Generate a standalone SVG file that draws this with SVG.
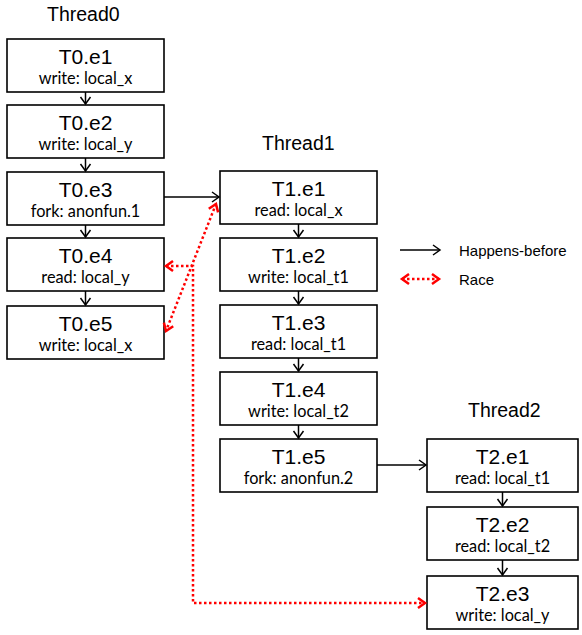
<svg xmlns="http://www.w3.org/2000/svg" width="582" height="635" viewBox="0 0 582 635">
  <style>
    .box { fill: #fff; stroke: #000; stroke-width: 1.6; }
    .ttl { font-family: "Liberation Sans", Arial, sans-serif; font-size: 19.5px; fill: #000; }
    .name { font-family: "Liberation Sans", Arial, sans-serif; font-size: 21px; fill: #000; text-anchor: middle; }
    .op { font-family: Lato, "Open Sans", sans-serif; font-size: 16.3px; fill: #000; text-anchor: middle; }
    .leg { font-family: "Liberation Sans", Arial, sans-serif; font-size: 15px; fill: #000; }
    .hb { fill: none; stroke: #000; stroke-width: 1.5; marker-end: url(#ah); }
    .race { fill: none; stroke: #ff0000; stroke-width: 2.5; stroke-dasharray: 2.5 2.5; marker-start: url(#rh); marker-end: url(#rh); }
  </style>
  <defs>
    <marker id="ah" markerUnits="userSpaceOnUse" markerWidth="14" markerHeight="14" refX="0" refY="0" viewBox="-8 -7 10 14" orient="auto">
      <path d="M-7,-5 L0,0 L-7,5" fill="none" stroke="#000" stroke-width="1.5"/>
    </marker>
    <marker id="rh" markerUnits="userSpaceOnUse" markerWidth="14" markerHeight="14" refX="0" refY="0" viewBox="-9 -7 11 14" orient="auto-start-reverse">
      <path d="M-7,-5 L0,0 L-7,5" fill="none" stroke="#ff0000" stroke-width="2.5"/>
    </marker>
  </defs>

  <!-- thread headings -->
  <text class="ttl" x="47" y="21">Thread0</text>
  <text class="ttl" x="262" y="150">Thread1</text>
  <text class="ttl" x="468" y="417">Thread2</text>

  <!-- Thread0 events -->
  <g id="T0.e1"><rect class="box" x="7" y="39" width="157" height="53"/><text class="name" x="85.5" y="64">T0.e1</text><text class="op" x="85.5" y="84">write: local_x</text></g>
  <g id="T0.e2"><rect class="box" x="7" y="105" width="157" height="53"/><text class="name" x="85.5" y="130">T0.e2</text><text class="op" x="85.5" y="150">write: local_y</text></g>
  <g id="T0.e3"><rect class="box" x="7" y="172" width="157" height="53"/><text class="name" x="85.5" y="197">T0.e3</text><text class="op" x="85.5" y="217">fork: anonfun.1</text></g>
  <g id="T0.e4"><rect class="box" x="7" y="238" width="157" height="53"/><text class="name" x="85.5" y="263">T0.e4</text><text class="op" x="85.5" y="283">read: local_y</text></g>
  <g id="T0.e5"><rect class="box" x="7" y="306" width="157" height="53"/><text class="name" x="85.5" y="331">T0.e5</text><text class="op" x="85.5" y="351">write: local_x</text></g>

  <!-- Thread1 events -->
  <g id="T1.e1"><rect class="box" x="220" y="171" width="157" height="53"/><text class="name" x="298.5" y="196">T1.e1</text><text class="op" x="298.5" y="216">read: local_x</text></g>
  <g id="T1.e2"><rect class="box" x="220" y="238" width="157" height="53"/><text class="name" x="298.5" y="263">T1.e2</text><text class="op" x="298.5" y="283">write: local_t1</text></g>
  <g id="T1.e3"><rect class="box" x="220" y="305" width="157" height="53"/><text class="name" x="298.5" y="330">T1.e3</text><text class="op" x="298.5" y="350">read: local_t1</text></g>
  <g id="T1.e4"><rect class="box" x="220" y="372" width="157" height="53"/><text class="name" x="298.5" y="397">T1.e4</text><text class="op" x="298.5" y="417">write: local_t2</text></g>
  <g id="T1.e5"><rect class="box" x="220" y="439" width="157" height="53"/><text class="name" x="298.5" y="464">T1.e5</text><text class="op" x="298.5" y="484">fork: anonfun.2</text></g>

  <!-- Thread2 events -->
  <g id="T2.e1"><rect class="box" x="427" y="439" width="151" height="53"/><text class="name" x="502.5" y="464">T2.e1</text><text class="op" x="502.5" y="484">read: local_t1</text></g>
  <g id="T2.e2"><rect class="box" x="427" y="507" width="151" height="53"/><text class="name" x="502.5" y="532">T2.e2</text><text class="op" x="502.5" y="552">read: local_t2</text></g>
  <g id="T2.e3"><rect class="box" x="427" y="576" width="151" height="53"/><text class="name" x="502.5" y="601">T2.e3</text><text class="op" x="502.5" y="621">write: local_y</text></g>

  <!-- connectors -->
  <g id="connectors">
    <path class="hb" d="M85.5,92 V104"/>
    <path class="hb" d="M85.5,158 V171"/>
    <path class="hb" d="M85.5,225 V237"/>
    <path class="hb" d="M85.5,291 V305"/>
    <path class="hb" d="M298.5,224 V237"/>
    <path class="hb" d="M298.5,291 V304"/>
    <path class="hb" d="M298.5,358 V371"/>
    <path class="hb" d="M298.5,425 V438"/>
    <path class="hb" d="M502.5,492 V506"/>
    <path class="hb" d="M502.5,560 V575"/>
    <path class="hb" d="M164,197 H219"/>
    <path class="hb" d="M377,465 H426"/>
    <path class="race" d="M166,266 H193 V603 H425"/>
    <path class="race" d="M216,204 L166,331"/>
  </g>

  <!-- legend -->
  <g id="legend">
    <path class="hb" d="M400,250 H440"/>
    <text class="leg" x="459" y="256">Happens-before</text>
    <path class="race" d="M402,279 H439"/>
    <text class="leg" x="459" y="285">Race</text>
  </g>
</svg>
